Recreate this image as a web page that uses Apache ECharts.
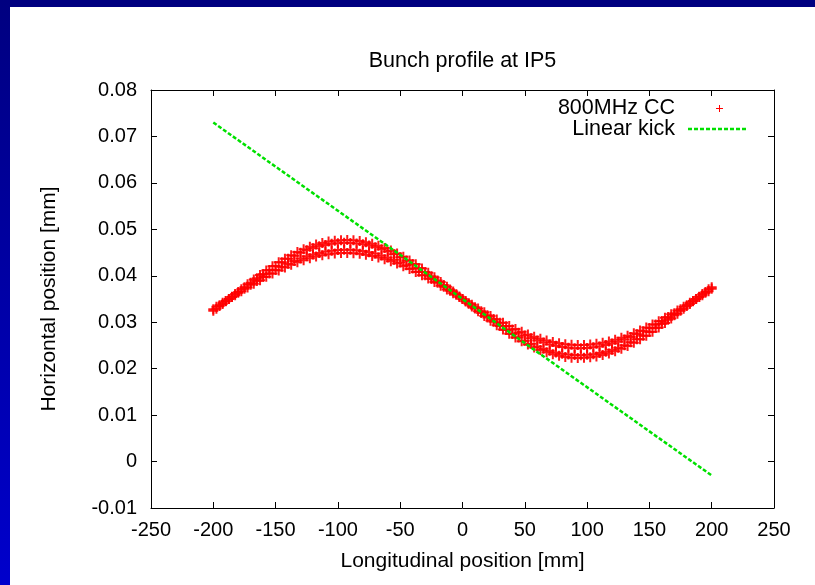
<!DOCTYPE html>
<html>
<head>
<meta charset="utf-8">
<script src="https://cdn.jsdelivr.net/npm/echarts@6/dist/echarts.min.js"></script>
<style>
html,body{margin:0;padding:0;background:#fff;}
#wrap{position:relative;width:815px;height:585px;overflow:hidden;background:#fff;}
#chart{position:absolute;left:0;top:0;width:815px;height:585px;}
#topbar{position:absolute;left:0;top:0;width:815px;height:7px;background:#000080;z-index:5;}
#leftbar{position:absolute;left:0;top:0;width:10px;height:585px;background:linear-gradient(#000080,#0000cc);z-index:5;}
</style>
</head>
<body>
<div id="wrap">
<div id="chart"></div>
<div id="topbar"></div>
<div id="leftbar"></div>
</div>
<script>
// Longitudinal positions [mm], main grid
var zPos = [-200,-195,-190,-185,-180,-175,-170,-165,-160,-155,-150,-145,-140,-135,-130,-125,-120,-115,-110,-105,-100,-95,-90,-85,-80,-75,-70,-65,-60,-55,-50,-45,-40,-35,-30,-25,-20,-15,-10,-5,0,5,10,15,20,25,30,35,40,45,50,55,60,65,70,75,80,85,90,95,100,105,110,115,120,125,130,135,140,145,150,155,160,165,170,175,180,185,190,195,200];
// 800MHz CC band, track 1 [mm]
var ccTrack1 = [0.03248,0.03348,0.03449,0.03551,0.03652,0.03752,0.03850,0.03945,0.04038,0.04127,0.04211,0.04291,0.04364,0.04432,0.04494,0.04548,0.04595,0.04634,0.04665,0.04689,0.04703,0.04710,0.04708,0.04697,0.04678,0.04651,0.04615,0.04572,0.04522,0.04464,0.04399,0.04328,0.04252,0.04170,0.04083,0.03992,0.03898,0.03801,0.03702,0.03601,0.03500,0.03399,0.03298,0.03199,0.03102,0.03008,0.02917,0.02830,0.02748,0.02672,0.02601,0.02536,0.02478,0.02428,0.02385,0.02349,0.02322,0.02303,0.02292,0.02290,0.02297,0.02311,0.02335,0.02366,0.02405,0.02452,0.02506,0.02568,0.02636,0.02709,0.02789,0.02873,0.02962,0.03055,0.03150,0.03248,0.03348,0.03449,0.03551,0.03652,0.03752];
// 800MHz CC band, track 2 [mm]
var ccTrack2 = [0.03280,0.03367,0.03456,0.03544,0.03633,0.03720,0.03806,0.03890,0.03971,0.04049,0.04123,0.04193,0.04257,0.04317,0.04370,0.04418,0.04459,0.04493,0.04521,0.04541,0.04554,0.04560,0.04558,0.04549,0.04532,0.04508,0.04477,0.04439,0.04395,0.04344,0.04288,0.04226,0.04158,0.04087,0.04011,0.03931,0.03849,0.03764,0.03677,0.03589,0.03500,0.03411,0.03323,0.03236,0.03151,0.03069,0.02989,0.02913,0.02842,0.02774,0.02712,0.02656,0.02605,0.02561,0.02523,0.02492,0.02468,0.02451,0.02442,0.02440,0.02446,0.02459,0.02479,0.02507,0.02541,0.02582,0.02630,0.02683,0.02743,0.02807,0.02877,0.02951,0.03029,0.03110,0.03194,0.03280,0.03367,0.03456,0.03544,0.03633,0.03720];
// Longitudinal positions [mm], offset grid
var zPosHalf = [-197.5,-192.5,-187.5,-182.5,-177.5,-172.5,-167.5,-162.5,-157.5,-152.5,-147.5,-142.5,-137.5,-132.5,-127.5,-122.5,-117.5,-112.5,-107.5,-102.5,-97.5,-92.5,-87.5,-82.5,-77.5,-72.5,-67.5,-62.5,-57.5,-52.5,-47.5,-42.5,-37.5,-32.5,-27.5,-22.5,-17.5,-12.5,-7.5,-2.5,2.5,7.5,12.5,17.5,22.5,27.5,32.5,37.5,42.5,47.5,52.5,57.5,62.5,67.5,72.5,77.5,82.5,87.5,92.5,97.5,102.5,107.5,112.5,117.5,122.5,127.5,132.5,137.5,142.5,147.5,152.5,157.5,162.5,167.5,172.5,177.5,182.5,187.5,192.5,197.5];
// 800MHz CC band, track 3 (outermost) [mm]
var ccTrack3 = [0.03288,0.03394,0.03500,0.03606,0.03712,0.03816,0.03918,0.04017,0.04112,0.04203,0.04289,0.04369,0.04444,0.04512,0.04572,0.04625,0.04671,0.04708,0.04736,0.04756,0.04767,0.04770,0.04763,0.04748,0.04723,0.04690,0.04649,0.04600,0.04543,0.04479,0.04407,0.04330,0.04246,0.04158,0.04065,0.03967,0.03867,0.03764,0.03659,0.03553,0.03447,0.03341,0.03236,0.03133,0.03033,0.02935,0.02842,0.02754,0.02670,0.02593,0.02521,0.02457,0.02400,0.02351,0.02310,0.02277,0.02252,0.02237,0.02230,0.02233,0.02244,0.02264,0.02292,0.02329,0.02375,0.02428,0.02488,0.02556,0.02631,0.02711,0.02797,0.02888,0.02983,0.03082,0.03184,0.03288,0.03394,0.03500,0.03606,0.03712];
// 800MHz CC band, track 4 (innermost) [mm]
var ccTrack4 = [0.03335,0.03417,0.03500,0.03583,0.03665,0.03746,0.03826,0.03903,0.03977,0.04048,0.04115,0.04178,0.04236,0.04289,0.04336,0.04377,0.04413,0.04442,0.04464,0.04479,0.04488,0.04490,0.04485,0.04472,0.04454,0.04428,0.04396,0.04357,0.04313,0.04263,0.04207,0.04147,0.04082,0.04013,0.03940,0.03864,0.03786,0.03706,0.03624,0.03541,0.03459,0.03376,0.03294,0.03214,0.03136,0.03060,0.02987,0.02918,0.02853,0.02793,0.02737,0.02687,0.02643,0.02604,0.02572,0.02546,0.02528,0.02515,0.02510,0.02512,0.02521,0.02536,0.02558,0.02587,0.02623,0.02664,0.02711,0.02764,0.02822,0.02885,0.02952,0.03023,0.03097,0.03174,0.03254,0.03335,0.03417,0.03500,0.03583,0.03665];
// Linear kick end points
var kickZ = [-200, 200];
var kickY = [0.073, -0.003];

var titleText = 'Bunch profile at IP5';
var xName = 'Longitudinal position [mm]';
var yName = 'Horizontal position [mm]';
var seriesNames = ['800MHz CC', 'Linear kick'];

var FONT = '"Liberation Sans", Arial, Helvetica, sans-serif';
var plusPath = 'path://M4,0H6V4H10V6H6V10H4V6H0V4H4Z';

var ccData = [];
var i;
for (i = 0; i < zPos.length; i++) {
  ccData.push([zPos[i], ccTrack1[i]]);
  ccData.push([zPos[i], ccTrack2[i]]);
}
for (i = 0; i < zPosHalf.length; i++) {
  ccData.push([zPosHalf[i], ccTrack3[i]]);
  ccData.push([zPosHalf[i], ccTrack4[i]]);
}
var kickData = kickZ.map(function (z, k) { return [z, kickY[k]]; });

var tickStyle = {show: true, inside: true, length: 6, lineStyle: {color: '#000', width: 1}};
var lineStyle = {show: true, onZero: false, lineStyle: {color: '#000', width: 1}};
var labelStyle = {color: '#000', fontSize: 20, fontFamily: FONT};

var chart = echarts.init(document.getElementById('chart'), null, {renderer: 'canvas'});
chart.setOption({
  backgroundColor: 'transparent',
  animation: false,
  title: {
    text: titleText, left: 457.5, top: 45, textAlign: 'center',
    textStyle: {fontSize: 21.5, fontWeight: 'normal', color: '#000', fontFamily: FONT}
  },
  grid: {left: 151, right: 41, top: 90, bottom: 77, containLabel: false},
  xAxis: [{
    type: 'value', min: -250, max: 250, interval: 50, position: 'bottom',
    axisLine: lineStyle, axisTick: tickStyle, splitLine: {show: false},
    axisLabel: Object.assign({margin: 12}, labelStyle),
    name: xName, nameLocation: 'middle', nameGap: 43,
    nameTextStyle: {color: '#000', fontSize: 21, fontFamily: FONT}
  }, {
    type: 'value', min: -250, max: 250, interval: 50, position: 'top',
    axisLine: lineStyle, axisTick: tickStyle, splitLine: {show: false}, axisLabel: {show: false}
  }],
  yAxis: [{
    type: 'value', min: -0.01, max: 0.08, interval: 0.01, position: 'left',
    axisLine: lineStyle, axisTick: tickStyle, splitLine: {show: false},
    axisLabel: Object.assign({margin: 14}, labelStyle),
    name: yName, nameLocation: 'middle', nameGap: 91, nameRotate: 90,
    nameTextStyle: {color: '#000', fontSize: 21, fontFamily: FONT}
  }, {
    type: 'value', min: -0.01, max: 0.08, interval: 0.01, position: 'right',
    axisLine: lineStyle, axisTick: tickStyle, splitLine: {show: false}, axisLabel: {show: false}
  }],
  series: [{
    name: seriesNames[0], type: 'scatter', data: ccData,
    symbol: plusPath, symbolSize: 10,
    itemStyle: {color: '#ff0000', opacity: 0.9}, z: 3
  }, {
    name: seriesNames[1], type: 'line', data: kickData, showSymbol: false, symbol: 'none',
    lineStyle: {color: '#00e000', width: 2.5, type: [4, 2]}, z: 4
  }],
  graphic: [
    {type: 'text', x: 675, y: 97, style: {text: seriesNames[0], fill: '#000', font: '21.5px ' + FONT, textAlign: 'right'}},
    {type: 'text', x: 675, y: 118, style: {text: seriesNames[1], fill: '#000', font: '21.5px ' + FONT, textAlign: 'right'}},
    {type: 'line', shape: {x1: 716, y1: 108.5, x2: 723, y2: 108.5}, style: {stroke: '#ff0000', lineWidth: 1}},
    {type: 'line', shape: {x1: 719.5, y1: 105, x2: 719.5, y2: 112}, style: {stroke: '#ff0000', lineWidth: 1}},
    {type: 'line', shape: {x1: 688, y1: 129, x2: 747, y2: 129}, style: {stroke: '#00e000', lineWidth: 2.5, lineDash: [4, 2]}}
  ]
});
</script>
</body>
</html>
